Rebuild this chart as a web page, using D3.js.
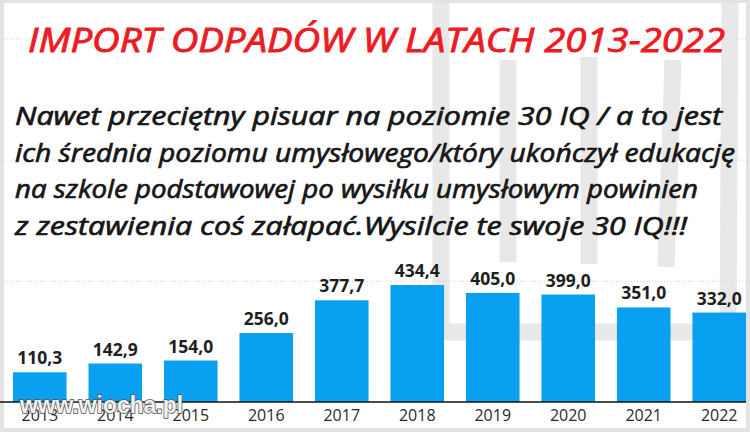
<!DOCTYPE html>
<html>
<head>
<meta charset="utf-8">
<script src="https://cdn.jsdelivr.net/npm/d3@7"></script>
<style>
  html, body { margin: 0; padding: 0; background: #fff; }
  svg { display: block; }
  .grid line { stroke: #cfcfcf; stroke-dasharray: 1,2; }
  .grid path { display: none; }
  .x.axis path { display: none; }
  .x.axis line { display: none; }
</style>
</head>
<body>
<div id="chart"></div>
<script>
var years = ['2013','2014','2015','2016','2017','2018','2019','2020','2021','2022'];
var imports = [110.3, 142.9, 154.0, 256.0, 377.7, 434.4, 405.0, 399.0, 351.0, 332.0];
var gridValues = [450, 900, 1350];
var titleText = 'IMPORT ODPADÓW W LATACH 2013-2022';
var bodyLines = [
  'Nawet przeciętny pisuar na poziomie 30 IQ / a to jest',
  'ich średnia poziomu umysłowego/który ukończył edukację',
  'na szkole podstawowej po wysiłku umysłowym powinien',
  'z zestawienia coś załapać.Wysilcie te swoje 30 IQ!!!'
];
var bodyWidths = [707, 720, 683, 672];
var watermark = 'www.wiocha.pl';

var width = 750, height = 432;
var fmt = function(v) { return v.toFixed(1).replace('.', ','); };

var svg = d3.select('#chart')
  .append('svg')
  .attr('width', width)
  .attr('height', height);

// grey frame of the original picture
svg.append('rect')
  .attr('width', width).attr('height', height)
  .attr('fill', '#e3e3e3');
svg.append('rect')
  .attr('x', 4).attr('y', 3)
  .attr('width', 742).attr('height', 425)
  .attr('fill', '#ffffff');

// faint logo watermark in the background
var wm = svg.append('g')
  .attr('fill', 'none')
  .attr('stroke', '#e8e8e8')
  .attr('stroke-width', 17)
  .attr('stroke-linejoin', 'round');
wm.append('path').attr('d', 'M441,3 L441,332 L728,332 L730,3');
wm.append('path').attr('d', 'M508,60 L508,262');
wm.append('path').attr('d', 'M589,57 L589,264');
wm.append('path').attr('d', 'M673,60 L666,267');

var x = d3.scaleBand()
  .domain(years)
  .range([13, 746])
  .paddingInner(0.29)
  .paddingOuter(0);

var y = d3.scaleLinear()
  .domain([0, 1355])
  .range([402, 37]);

// gridlines
svg.append('g')
  .attr('class', 'grid')
  .attr('transform', 'translate(4,0)')
  .call(d3.axisLeft(y)
    .tickValues(gridValues)
    .tickSize(-742)
    .tickFormat(''));

// title
svg.append('text')
  .attr('x', 28)
  .attr('y', 52)
  .attr('textLength', 697)
  .attr('lengthAdjust', 'spacingAndGlyphs')
  .style('font-family', "'Comic Sans MS', 'Open Sans', sans-serif")
  .style('font-style', 'italic')
  .style('font-size', '33px')
  .attr('fill', '#ec1c24')
  .attr('stroke', '#ec1c24')
  .attr('stroke-width', 0.9)
  .text(titleText);

// comment text
svg.append('g')
  .selectAll('text')
  .data(bodyLines)
  .enter()
  .append('text')
  .attr('x', 15)
  .attr('y', function(d, i) { return 125 + i * 36.7; })
  .attr('textLength', function(d, i) { return bodyWidths[i]; })
  .attr('lengthAdjust', 'spacingAndGlyphs')
  .style('font-family', "'Comic Sans MS', 'Open Sans', sans-serif")
  .style('font-style', 'italic')
  .style('font-size', '26px')
  .attr('fill', '#161616')
  .attr('stroke', '#161616')
  .attr('stroke-width', 0.7)
  .text(function(d) { return d; });

// bars
svg.append('g')
  .selectAll('rect')
  .data(imports)
  .enter()
  .append('rect')
  .attr('x', function(d, i) { return x(years[i]); })
  .attr('y', function(d) { return y(d); })
  .attr('width', x.bandwidth())
  .attr('height', function(d) { return y(0) - y(d); })
  .attr('fill', '#0aa0f2');

// value labels
svg.append('g')
  .selectAll('text')
  .data(imports)
  .enter()
  .append('text')
  .attr('x', function(d, i) { return x(years[i]) + x.bandwidth() / 2; })
  .attr('y', function(d) { return y(d) - 8; })
  .attr('text-anchor', 'middle')
  .style('font-family', "'Open Sans', sans-serif")
  .style('font-weight', 700)
  .style('font-size', '17.5px')
  .attr('fill', '#1e1e1e')
  .text(fmt);

// baseline
svg.append('line')
  .attr('x1', 0).attr('x2', 746)
  .attr('y1', y(0)).attr('y2', y(0))
  .attr('stroke', '#111')
  .attr('stroke-width', 1.3);

// year labels
svg.append('g')
  .attr('class', 'x axis')
  .attr('transform', 'translate(0,' + y(0) + ')')
  .call(d3.axisBottom(x).tickSize(0).tickPadding(8))
  .selectAll('text')
  .style('font-family', "'Open Sans', sans-serif")
  .style('font-size', '16px')
  .attr('fill', '#2a2a2a');

// site watermark, drawn over the first year labels as in the original
svg.append('text')
  .attr('x', 20)
  .attr('y', 413)
  .attr('textLength', 163)
  .attr('lengthAdjust', 'spacingAndGlyphs')
  .style('font-family', "'Liberation Sans', Arial, sans-serif")
  .style('font-weight', 700)
  .style('font-size', '24px')
  .attr('fill', '#f2f2f2')
  .attr('stroke', '#555')
  .attr('stroke-width', 1.6)
  .attr('paint-order', 'stroke')
  .text(watermark);
</script>
</body>
</html>
